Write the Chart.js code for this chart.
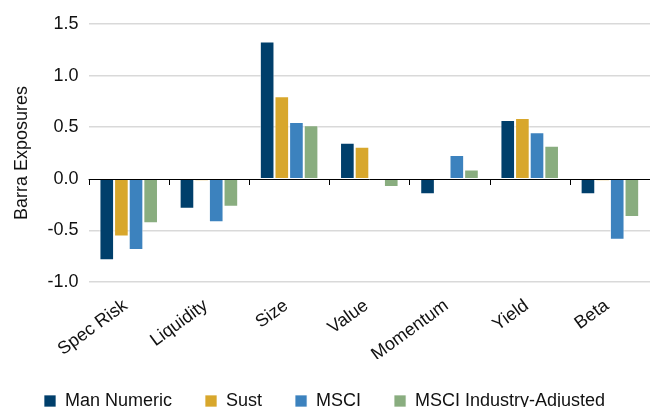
<!DOCTYPE html>
<html>
<head>
<meta charset="utf-8">
<script src="https://cdn.jsdelivr.net/npm/chart.js@4"></script>
<style>
    body { margin: 0; background: #fff; }
    #wrap { width: 650px; height: 407px; }
</style>
</head>
<body>
<div id="wrap"><canvas id="chart"></canvas></div>
<script>
// Data
const categories = ['Spec Risk', 'Liquidity', 'Size', 'Value', 'Momentum', 'Yield', 'Beta'];
const manNumeric = [-0.79, -0.29, 1.33, 0.35, -0.15, 0.57, -0.15];
const sust = [-0.56, -0.02, 0.80, 0.31, -0.01, 0.59, -0.02];
const msci = [-0.69, -0.42, 0.55, -0.01, 0.23, 0.45, -0.59];
const msciAdjusted = [-0.43, -0.27, 0.52, -0.08, 0.09, 0.32, -0.37];
const yTicks = [-1.0, -0.5, 0.0, 0.5, 1.0, 1.5];

const fontFamily = '"Liberation Sans", Arial, Helvetica, sans-serif';

// Zero line plus small tick marks between categories
const zeroTicks = {
    id: 'zeroTicks',
    afterDatasetsDraw(chart) {
        const x = chart.scales.x;
        const y = chart.scales.y;
        const ctx = chart.ctx;
        const y0 = Math.round(y.getPixelForValue(0));
        const half = (x.getPixelForValue(1) - x.getPixelForValue(0)) / 2;
        ctx.save();
        ctx.strokeStyle = '#000';
        ctx.lineWidth = 1;
        ctx.beginPath();
        ctx.moveTo(chart.chartArea.left, y0 + 0.5);
        ctx.lineTo(chart.chartArea.right, y0 + 0.5);
        for (let i = 0; i < categories.length; i++) {
            const px = Math.round(x.getPixelForValue(i) - half) + 0.5;
            ctx.moveTo(px, y0);
            ctx.lineTo(px, y0 + 6);
        }
        ctx.stroke();
        ctx.restore();
    }
};

function makeSet(label, data, color) {
    return {
        label: label,
        data: data,
        backgroundColor: color,
        borderColor: 'rgba(255,255,255,0.7)',
        borderWidth: 1,
        categoryPercentage: 0.73,
        barPercentage: 1.0
    };
}

new Chart(document.getElementById('chart'), {
    type: 'bar',
    data: {
        labels: categories,
        datasets: [
            makeSet('Man Numeric', manNumeric, '#003f6b'),
            makeSet('Sust', sust, '#d8a72c'),
            makeSet('MSCI', msci, '#3c82be'),
            makeSet('MSCI Industry-Adjusted', msciAdjusted, '#89ad7f')
        ]
    },
    options: {
        responsive: true,
        maintainAspectRatio: false,
        animation: false,
        layout: {
            padding: { top: 24, right: 0, left: 11, bottom: 0 }
        },
        scales: {
            x: {
                grid: { display: false, drawTicks: false },
                border: { display: false },
                afterFit(scale) {
                    scale.height = 77;
                },
                ticks: {
                    color: '#111',
                    font: { family: fontFamily, size: 18 },
                    minRotation: 36,
                    maxRotation: 36,
                    padding: 13,
                    labelOffset: -3
                }
            },
            y: {
                min: -1.0,
                max: 1.5,
                afterBuildTicks(axis) {
                    axis.ticks = yTicks.map(v => ({ value: v }));
                },
                grid: {
                    color: ctx => ctx.tick && ctx.tick.value === 0 ? 'rgba(0,0,0,0)' : '#d9d9d9',
                    lineWidth: 1.5,
                    drawTicks: false
                },
                border: { display: false },
                ticks: {
                    color: '#111',
                    font: { family: fontFamily, size: 18 },
                    padding: 10,
                    callback: v => v.toFixed(1)
                },
                title: {
                    display: true,
                    text: 'Barra Exposures',
                    color: '#111',
                    font: { family: fontFamily, size: 18 },
                    padding: { top: 0, bottom: 5 }
                }
            }
        },
        plugins: {
            legend: {
                position: 'bottom',
                align: 'start',
                maxHeight: 48,
                labels: {
                    color: '#111',
                    font: { family: fontFamily, size: 18 },
                    boxWidth: 12,
                    boxHeight: 12,
                    padding: 33
                }
            },
            tooltip: { enabled: false }
        }
    },
    plugins: [zeroTicks]
});
</script>
</body>
</html>
